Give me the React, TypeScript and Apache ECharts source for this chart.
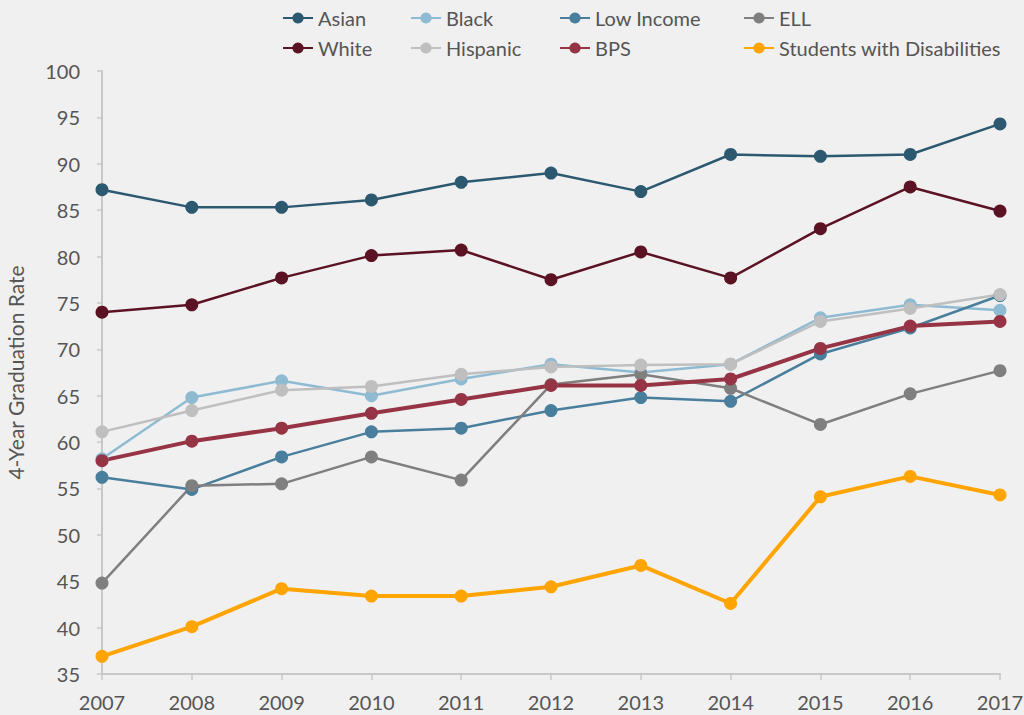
import React, { useEffect, useRef } from "react";
import * as echarts from "echarts";

const years = ["2007", "2008", "2009", "2010", "2011", "2012", "2013", "2014", "2015", "2016", "2017"];

const asian = [87.2, 85.3, 85.3, 86.1, 88.0, 89.0, 87.0, 91.0, 90.8, 91.0, 94.3];
const black = [58.2, 64.8, 66.6, 65.0, 66.8, 68.4, 67.5, 68.4, 73.4, 74.8, 74.2];
const lowIncome = [56.2, 54.9, 58.4, 61.1, 61.5, 63.4, 64.8, 64.4, 69.5, 72.3, 75.8];
const ell = [44.8, 55.3, 55.5, 58.4, 55.9, 66.2, 67.3, 65.8, 61.9, 65.2, 67.7];
const white = [74.0, 74.8, 77.7, 80.1, 80.7, 77.5, 80.5, 77.7, 83.0, 87.5, 84.9];
const hispanic = [61.1, 63.4, 65.6, 66.0, 67.3, 68.1, 68.3, 68.4, 73.0, 74.4, 75.9];
const bps = [58.0, 60.1, 61.5, 63.1, 64.6, 66.1, 66.1, 66.8, 70.1, 72.5, 73.0];
const swd = [36.9, 40.1, 44.2, 43.4, 43.4, 44.4, 46.7, 42.6, 54.1, 56.3, 54.3];

const yTicks = { min: 35, max: 100, interval: 5 };

const seriesDefs = [
  { name: "Asian", data: asian, color: "#2c5970", width: 2.5 },
  { name: "Black", data: black, color: "#8fbbd2", width: 2.5 },
  { name: "Low Income", data: lowIncome, color: "#497f9d", width: 2.5 },
  { name: "ELL", data: ell, color: "#7f7f7f", width: 2.5 },
  { name: "White", data: white, color: "#5b1323", width: 2.5 },
  { name: "Hispanic", data: hispanic, color: "#bfbfbf", width: 2.5 },
  { name: "BPS", data: bps, color: "#963446", width: 4 },
  { name: "Students with Disabilities", data: swd, color: "#ffa400", width: 4 },
];

const legendPos = [
  { left: 277, top: 3 },
  { left: 405, top: 3 },
  { left: 554, top: 3 },
  { left: 738, top: 3 },
  { left: 277, top: 33 },
  { left: 405, top: 33 },
  { left: 554, top: 33 },
  { left: 738, top: 33 },
];

export default function App() {
  const ref = useRef<HTMLDivElement>(null);
  useEffect(() => {
    if (!ref.current) return;
    const chart = echarts.init(ref.current, null, { renderer: "svg" });
    const font = "Lato, 'Noto Sans', sans-serif";
    chart.setOption({
      animation: false,
      backgroundColor: "#f0f0f0",
      textStyle: { fontFamily: font },
      legend: seriesDefs.map((s, i) => ({
        data: [s.name],
        left: legendPos[i].left,
        top: legendPos[i].top,
        itemWidth: 30,
        itemHeight: 14,
        itemGap: 11,
        textStyle: { fontSize: 20, color: "#555", fontFamily: font },
      })),
      grid: { left: 102, right: 24, top: 71, bottom: 41, containLabel: false, outerBoundsMode: "none" },
      xAxis: {
        type: "category",
        data: years,
        boundaryGap: false,
        axisLine: { lineStyle: { color: "#c8c8c8", width: 2 } },
        axisTick: { show: true, length: 6, lineStyle: { color: "#c8c8c8", width: 1.5 } },
        axisLabel: { fontSize: 20, color: "#555", margin: 18, fontFamily: font },
      },
      yAxis: {
        type: "value",
        min: yTicks.min,
        max: yTicks.max,
        interval: yTicks.interval,
        name: "4-Year Graduation Rate",
        nameLocation: "middle",
        nameGap: 76,
        nameTextStyle: { fontSize: 21, color: "#555", fontFamily: font },
        axisLine: { show: true, lineStyle: { color: "#c8c8c8", width: 2 } },
        axisTick: { show: true, length: 5, lineStyle: { color: "#c8c8c8", width: 1.5 } },
        axisLabel: { fontSize: 20, color: "#555", margin: 22, fontFamily: font },
        splitLine: { show: false },
      },
      series: seriesDefs.map((s) => ({
        name: s.name,
        type: "line",
        data: s.data,
        symbol: "circle",
        symbolSize: 13,
        color: s.color,
        lineStyle: { color: s.color, width: s.width },
        itemStyle: { color: s.color },
        emphasis: { disabled: true },
      })),
    });
    return () => chart.dispose();
  }, []);
  return (
    <div
      ref={ref}
      style={{ position: "absolute", left: 0, top: 0, width: 1024, height: 715, background: "#f0f0f0" }}
    />
  );
}
